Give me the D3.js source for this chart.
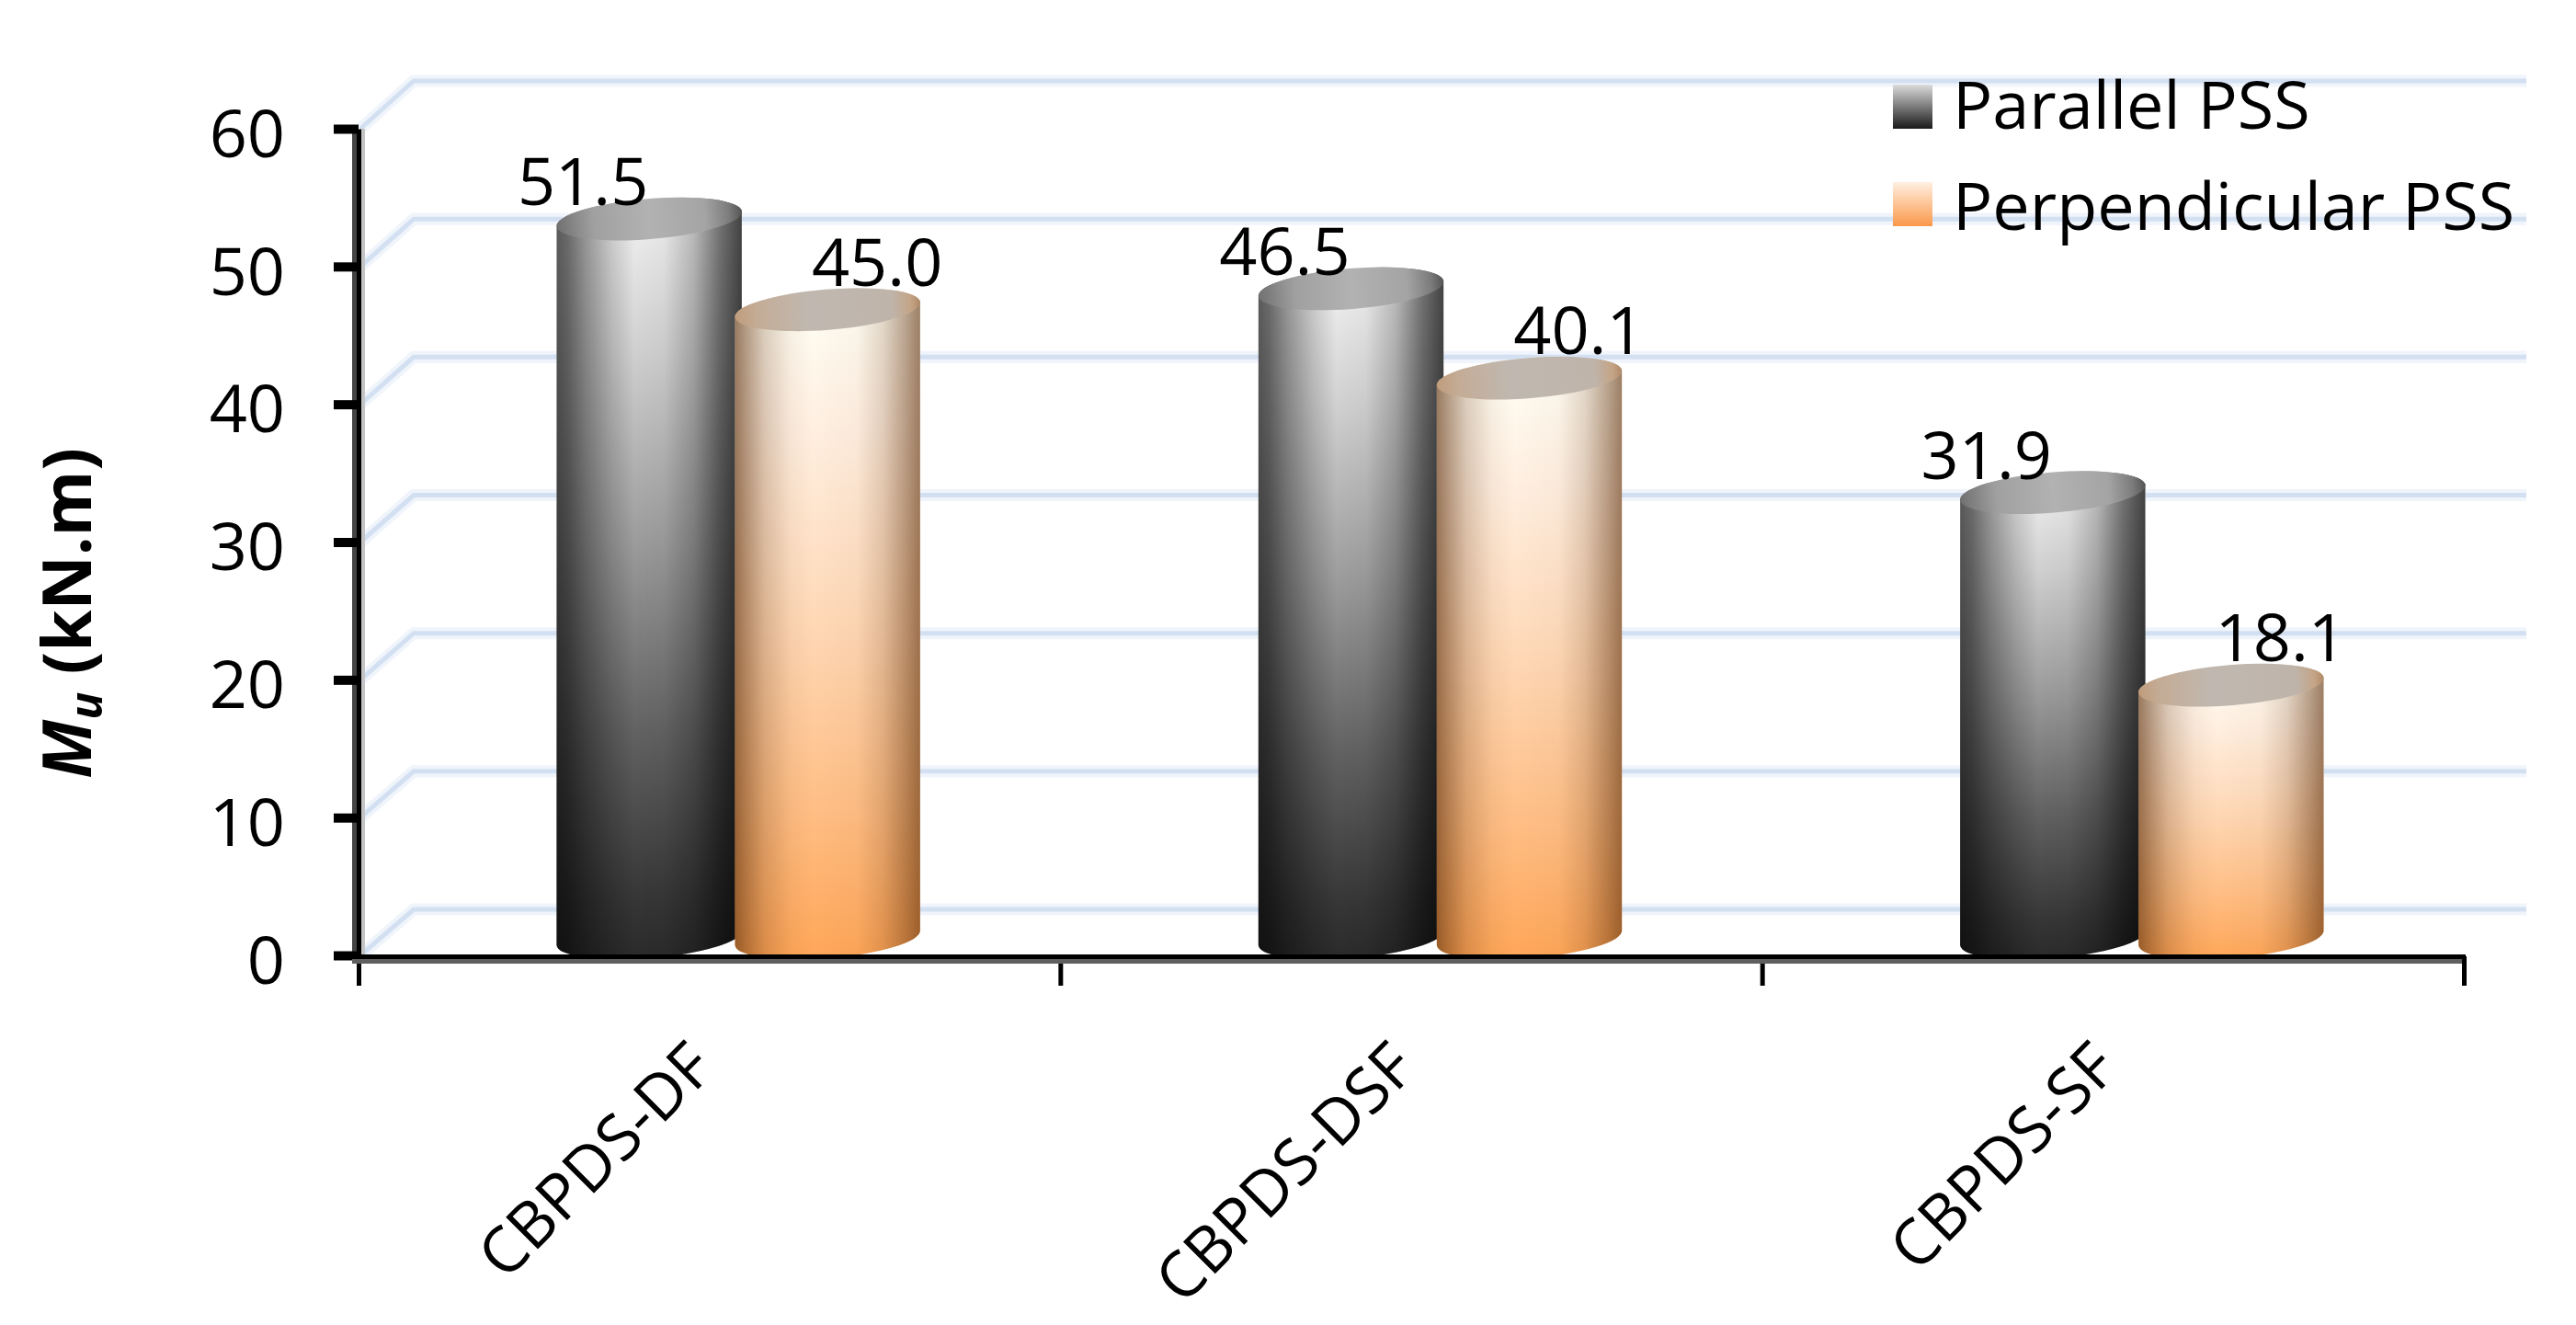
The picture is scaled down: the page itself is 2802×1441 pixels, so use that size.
<!DOCTYPE html>
<html><head><meta charset="utf-8">
<script src="https://cdn.jsdelivr.net/npm/d3@7"></script>
<style>html,body{margin:0;padding:0;background:#fff}svg{display:block}text{font-family:"Open Sans",sans-serif;fill:#000}</style>
</head><body><svg id="c" width="2802" height="1441"></svg>
<script>
const categories = ["CBPDS-DF","CBPDS-DSF","CBPDS-SF"];
const parallel = [51.5,46.5,31.9];
const perpendicular = [45.0,40.1,18.1];
const yTicks = [0,10,20,30,40,50,60];
const seriesNames = ["Parallel PSS","Perpendicular PSS"];

const W=2802,H=1441;
const svg=d3.select("#c");
const defs=svg.append("defs");
function grad(id,stops,vertical){
  const g=defs.append("linearGradient").attr("id",id).attr("x1",0).attr("y1",0)
    .attr("x2",vertical?0:1).attr("y2",vertical?1:0);
  stops.forEach(s=>g.append("stop").attr("offset",s[0]).attr("stop-color",s[1]).attr("stop-opacity",s[2]===undefined?1:s[2]));
}
grad("bodyD",[[0,"#f4f4f4"],[.2,"#d0d0d0"],[.45,"#9c9c9c"],[.7,"#626262"],[.92,"#363636"],[1,"#2a2a2a"]],true);
grad("bodyO",[[0,"#fffff6"],[.2,"#fff0e2"],[.5,"#ffd8b6"],[.78,"#ffbe84"],[1,"#ffa658"]],true);
grad("shadeD",[[0,"#000",.62],[.06,"#000",.55],[.16,"#000",.36],[.3,"#000",.14],[.42,"#000",0],[.58,"#000",.03],[.74,"#000",.22],[.88,"#000",.52],[1,"#000",.72]],false);
grad("shadeO",[[0,"#5a2c08",.62],[.06,"#5a2c08",.46],[.16,"#5a2c08",.22],[.3,"#5a2c08",.05],[.42,"#5a2c08",0],[.66,"#5a2c08",.03],[.8,"#5a2c08",.18],[.92,"#5a2c08",.42],[1,"#5a2c08",.6]],false);
grad("lidD",[[0,"#707070"],[.2,"#a0a0a0"],[.5,"#b2b2b2"],[.8,"#a4a4a4"],[.93,"#7c7c7c"],[1,"#555"]],false);
grad("lidO",[[0,"#c09c7c"],[.12,"#c4ac96"],[.4,"#c0b8b0"],[.85,"#bfb4aa"],[.95,"#c4a486"],[1,"#b08a68"]],false);
grad("swD",[[0,"#dcdcdc"],[1,"#1a1a1a"]],true);
grad("swO",[[0,"#fff0e2"],[1,"#fb984a"]],true);

// scales
const y=d3.scaleLinear().domain([0,60]).range([1039,140]);
const xBand=d3.scaleBand().domain(categories).range([390,2680]);
const xInner=d3.scaleBand().domain([0,1]).range([-194,194]);
const barY=d3.scaleLinear().domain([0,60]).range([1020,109]);
const barDepthDx=31.5, rx=101, ry=22, tilt=-4.6;
const dxB=60,dyB=-50;

// wall grid
const grid=svg.append("g");
[["#f0f4fb",13],["#d3e0f2",5]].forEach(([c,w])=>{
  grid.selectAll(null).data(yTicks).join("path")
   .attr("d",d=>`M392,${y(d)}L${390+dxB},${y(d)+dyB-(d/60)*2}L2748,${y(d)+dyB-(d/60)*2}`)
   .attr("fill","none").attr("stroke",c).attr("stroke-width",w);
});

// bars
const rad=tilt*Math.PI/180;
const series=[{vals:parallel,k:"D",i:0,ly:-15,lx:-72},{vals:perpendicular,k:"O",i:1,ly:-26,lx:54}];
const bars=svg.append("g");
const marks=[];
categories.forEach((c,ci)=>series.forEach(s=>marks.push({c,v:s.vals[ci],s})));
const g=bars.selectAll("g").data(marks).join("g");
const cxOf=d=>xBand(d.c)+xBand.bandwidth()/2+barDepthDx+xInner(d.s.i)+xInner.bandwidth()/2;
function bodyPath(d){
  const cx=cxOf(d),top=barY(d.v),bot=barY(0);
  const ex=rx*Math.cos(rad),ey=rx*Math.sin(rad);
  return `M${cx-ex},${top-ey}L${cx-ex},${bot-ey}A${rx},${ry} ${tilt} 0 0 ${cx+ex},${bot+ey}L${cx+ex},${top+ey}A${rx},${ry} ${tilt} 0 0 ${cx-ex},${top-ey}Z`;
}
g.append("path").attr("d",bodyPath).attr("fill",d=>`url(#body${d.s.k})`);
g.append("path").attr("d",bodyPath).attr("fill",d=>`url(#shade${d.s.k})`);
g.append("ellipse").attr("cx",d=>cxOf(d)).attr("cy",d=>barY(d.v)).attr("rx",rx).attr("ry",ry)
 .attr("transform",d=>`rotate(${tilt} ${cxOf(d)} ${barY(d.v)})`)
 .attr("fill",d=>`url(#lid${d.s.k})`);

// axes
svg.append("line").attr("x1",385.5).attr("x2",385.5).attr("y1",140).attr("y2",1048).attr("stroke","#444").attr("stroke-width",5);
svg.append("line").attr("x1",394.5).attr("x2",394.5).attr("y1",140).attr("y2",1038).attr("stroke","#c4c4c4").attr("stroke-width",5);
const ax=svg.append("g").attr("transform","translate(390,0)")
 .call(d3.axisLeft(y).tickValues(yTicks).tickSize(27).tickPadding(53).tickSizeOuter(0));
ax.select(".domain").attr("stroke","#000").attr("stroke-width",5);
ax.selectAll(".tick line").attr("stroke","#000").attr("stroke-width",10);
ax.selectAll(".tick text").attr("font-size",72).attr("font-family","Open Sans").attr("fill","#000").attr("dy","0.42em");

const xEdges=d3.scaleLinear().domain([0,3]).range([390,2680]);
const bx=svg.append("g").attr("transform","translate(0,1040)")
 .call(d3.axisBottom(xEdges).ticks(3).tickValues([0,1,2,3]).tickSize(32).tickFormat(""));
bx.select(".domain").remove();
bx.selectAll(".tick line").attr("stroke","#000").attr("stroke-width",5);
svg.append("line").attr("x1",363).attr("x2",2682).attr("y1",1040.5).attr("y2",1040.5).attr("stroke","#000").attr("stroke-width",5);
svg.append("line").attr("x1",383).attr("x2",2678).attr("y1",1045.5).attr("y2",1045.5).attr("stroke","#5f5f5f").attr("stroke-width",5);

// category labels
svg.append("g").selectAll("text").data(categories).join("text")
 .attr("text-anchor","end").attr("font-size",69)
 .attr("transform",d=>`translate(${xBand(d)+xBand.bandwidth()/2+8},1164) rotate(-45)`)
 .text(d=>d);

// value labels
svg.append("g").selectAll("text").data(marks).join("text")
 .attr("text-anchor","middle").attr("font-size",72)
 .attr("x",d=>cxOf(d)+d.s.lx).attr("y",d=>barY(d.v)+d.s.ly)
 .text(d=>d.v.toFixed(1));

// legend
const legY=d3.scalePoint().domain(seriesNames).range([92,198]);
const leg=svg.append("g").selectAll("g").data(seriesNames).join("g");
leg.append("rect").attr("x",2059).attr("y",d=>legY(d)).attr("width",43).attr("height",48)
 .attr("fill",(d,i)=>i?"url(#swO)":"url(#swD)");
leg.append("text").attr("x",2124).attr("y",d=>legY(d)+(d===seriesNames[0]?48:52)).attr("font-size",72).text(d=>d);

// y title
const t=svg.append("text").attr("transform","translate(99,667) rotate(-90)").attr("text-anchor","middle")
 .attr("font-size",73).attr("font-weight",700);
t.append("tspan").attr("font-style","italic").text("M");
t.append("tspan").attr("font-style","italic").attr("font-size",50).attr("dy",12).text("u");
t.append("tspan").attr("dy",-12).text(" (kN.m)");
</script></body></html>
